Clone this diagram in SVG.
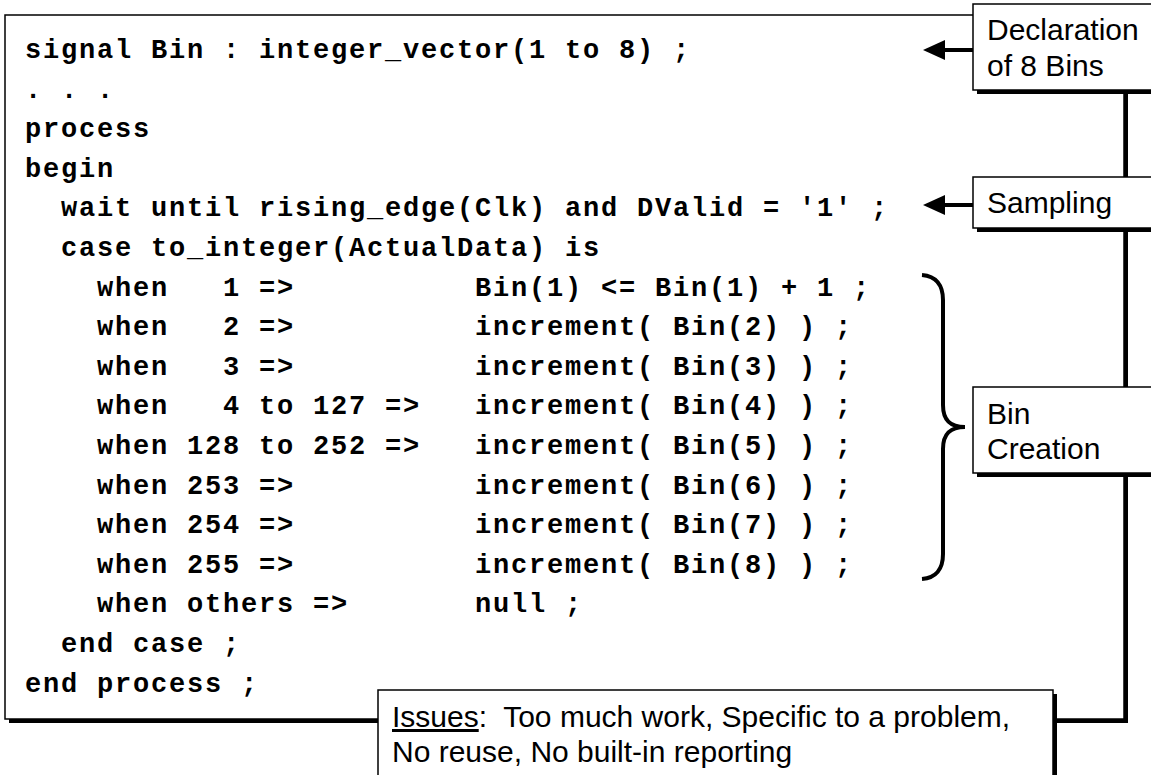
<svg xmlns="http://www.w3.org/2000/svg" width="1151" height="775" viewBox="0 0 1151 775">
<defs>
<style>
.code{font-family:"Liberation Mono","Courier New",monospace;font-weight:bold;font-size:27px;letter-spacing:1.8px;fill:#000;white-space:pre}
.lbl{font-family:"Liberation Sans",Arial,sans-serif;font-size:30px;fill:#000;white-space:pre}
.box{fill:#fff;stroke:#000;stroke-width:1.5}
.shadow{fill:#000}
.conn{stroke:#000;stroke-width:4;fill:none}
</style>
<marker id="arr" viewBox="0 0 22 20" refX="5" refY="10" markerWidth="22" markerHeight="20" markerUnits="userSpaceOnUse" orient="auto">
<path d="M0,0 L22,10 L0,20 z" fill="#000"/>
</marker>
</defs>
<rect width="1151" height="775" fill="#fff"/>
<g id="code-box">
<rect class="shadow" x="9" y="19" width="1119" height="704"/>
<rect class="box" x="5" y="15" width="1119" height="704"/>
<text class="code" xml:space="preserve" x="25" y="58">signal Bin : integer_vector(1 to 8) ;</text>
<text class="code" xml:space="preserve" x="25" y="97.6">. . .</text>
<text class="code" xml:space="preserve" x="25" y="137.2">process</text>
<text class="code" xml:space="preserve" x="25" y="176.8">begin</text>
<text class="code" xml:space="preserve" x="25" y="216.4">  wait until rising_edge(Clk) and DValid = '1' ;</text>
<text class="code" xml:space="preserve" x="25" y="256">  case to_integer(ActualData) is</text>
<text class="code" xml:space="preserve" x="25" y="295.6">    when   1 =>          Bin(1) &lt;= Bin(1) + 1 ;</text>
<text class="code" xml:space="preserve" x="25" y="335.2">    when   2 =>          increment( Bin(2) ) ;</text>
<text class="code" xml:space="preserve" x="25" y="374.8">    when   3 =>          increment( Bin(3) ) ;</text>
<text class="code" xml:space="preserve" x="25" y="414.4">    when   4 to 127 =>   increment( Bin(4) ) ;</text>
<text class="code" xml:space="preserve" x="25" y="454">    when 128 to 252 =>   increment( Bin(5) ) ;</text>
<text class="code" xml:space="preserve" x="25" y="493.6">    when 253 =>          increment( Bin(6) ) ;</text>
<text class="code" xml:space="preserve" x="25" y="533.2">    when 254 =>          increment( Bin(7) ) ;</text>
<text class="code" xml:space="preserve" x="25" y="572.8">    when 255 =>          increment( Bin(8) ) ;</text>
<text class="code" xml:space="preserve" x="25" y="612.4">    when others =>       null ;</text>
<text class="code" xml:space="preserve" x="25" y="652">  end case ;</text>
<text class="code" xml:space="preserve" x="25" y="691.6">end process ;</text>
</g>
<g id="connectors">
<line class="conn" x1="973" y1="50" x2="940" y2="50" marker-end="url(#arr)"/>
<line class="conn" x1="973" y1="205" x2="940" y2="205" marker-end="url(#arr)"/>
<path class="conn" d="M922,275 C936,276 943,285 943,300 L943,405 C943,420 950,427 965,427 C950,427 943,434 943,449 L943,554 C943,569 936,578 922,579"/>
</g>
<g id="declaration">
<rect class="shadow" x="977" y="8" width="200" height="86"/>
<rect class="box" x="973" y="4" width="200" height="86"/>
<text class="lbl" x="987" y="40">Declaration</text>
<text class="lbl" x="987" y="76">of 8 Bins</text>
</g>
<g id="sampling">
<rect class="shadow" x="977" y="181" width="200" height="51"/>
<rect class="box" x="973" y="177" width="200" height="51"/>
<text class="lbl" x="987" y="213">Sampling</text>
</g>
<g id="bin-creation">
<rect class="shadow" x="977" y="391" width="200" height="86"/>
<rect class="box" x="973" y="387" width="200" height="86"/>
<text class="lbl" x="987" y="424">Bin</text>
<text class="lbl" x="987" y="459">Creation</text>
</g>
<g id="issues">
<rect class="shadow" x="382" y="694" width="675" height="100"/>
<rect class="box" x="378" y="690" width="675" height="100"/>
<text class="lbl" xml:space="preserve" x="392" y="727"><tspan text-decoration="underline">Issues</tspan>:  Too much work, Specific to a problem,</text>
<text class="lbl" x="392" y="762">No reuse, No built-in reporting</text>
</g>
</svg>
